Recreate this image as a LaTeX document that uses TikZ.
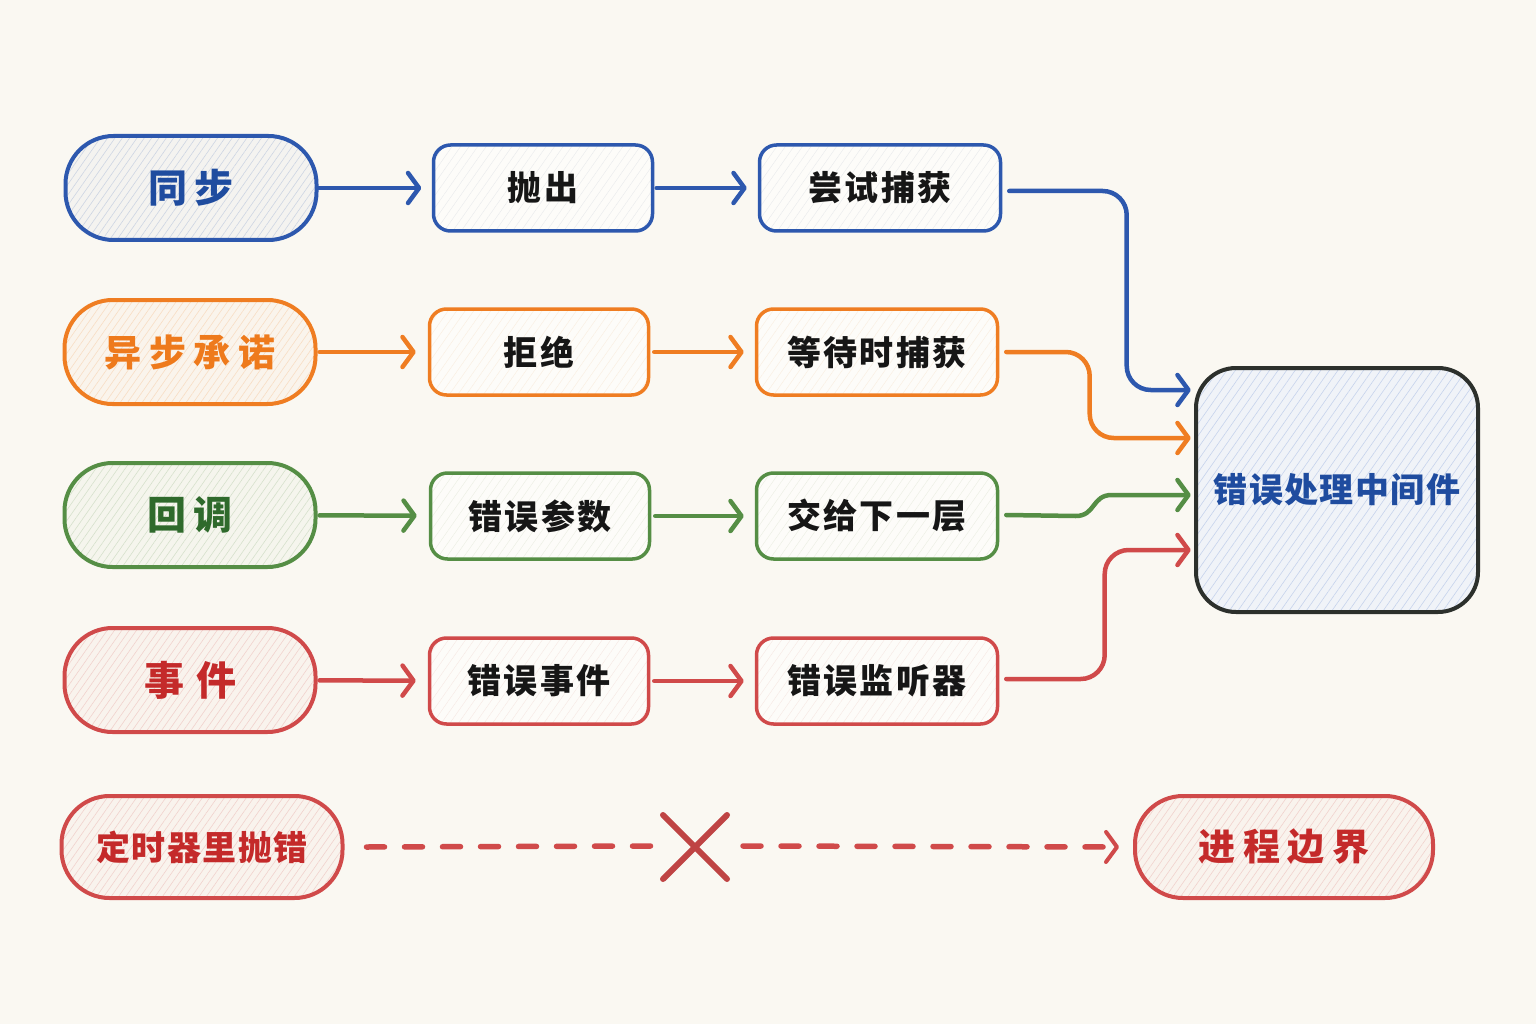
\documentclass[tikz,border=0pt]{standalone}
\usepackage{fontspec}
\usetikzlibrary{arrows.meta,patterns.meta}
\newfontfamily\fpill[LetterSpace=20]{Noto Sans CJK SC}
\newfontfamily\fpillw[LetterSpace=30]{Noto Sans CJK SC}
\newfontfamily\fmid[LetterSpace=7]{Noto Sans CJK SC}
\newfontfamily\fsml[LetterSpace=4]{Noto Sans CJK SC}
\definecolor{bg}{HTML}{FAF8F2}
\definecolor{cblue}{HTML}{2D58AE}
\definecolor{tblue}{HTML}{1F4C9F}
\definecolor{corange}{HTML}{EF7D22}
\definecolor{torange}{HTML}{EE7A1C}
\definecolor{cgreen}{HTML}{558E45}
\definecolor{tgreen}{HTML}{2F6A2C}
\definecolor{cred}{HTML}{D04A4A}
\definecolor{tred}{HTML}{C42A2A}
\definecolor{cdark}{HTML}{2C302C}
\definecolor{ink}{HTML}{161616}
\definecolor{mwfill}{HTML}{F0F3F8}
\definecolor{mwhatch}{HTML}{C6D3EC}
\tikzset{
  pill/.style={draw=#1, line width=4pt, rounded corners=48pt,
    minimum width=251pt, minimum height=104pt, inner sep=0pt,
    preaction={fill=#1!3!bg},
    pattern={Lines[angle=55,distance=6pt,line width=0.6pt]}, pattern color=#1!22!bg},
  midbox/.style={draw=#1, line width=3.5pt, rounded corners=17pt,
    minimum width=219pt, minimum height=86pt, inner sep=0pt,
    preaction={fill=white!55!bg},
    pattern={Lines[angle=55,distance=7pt,line width=0.4pt]}, pattern color=#1!9!bg,
    text=ink, font=\fmid\bfseries\fontsize{34}{40}\selectfont},
  catchbox/.style={midbox=#1, minimum width=241pt},
  flow/.style={draw=#1, line width=4.5pt, line cap=round,
    -{Straight Barb[length=11pt,width=30pt,round]}},
  merge/.style={flow=#1, rounded corners=24pt},
  dashline/.style={draw=cred, line width=5.5pt, line cap=round, dash pattern=on 18pt off 20pt},
  xcross/.style={draw=cred!92!black, line width=6pt, line cap=round}
}
\begin{document}
\begin{tikzpicture}[x=1pt,y=-1pt]
\fill[bg] (0,0) rectangle (1536,1024);
\useasboundingbox (0,0) rectangle (1536,1024);

% start pills
\node[pill=cblue, text=tblue, font=\fpill\bfseries\fontsize{39}{44}\selectfont] (s1) at (191,188) {同步};
\node[pill=corange, text=torange, font=\fpill\bfseries\fontsize{37}{42}\selectfont] (s2) at (190,352) {异步承诺};
\node[pill=cgreen, text=tgreen, font=\fpill\bfseries\fontsize{39}{44}\selectfont] (s3) at (190,515) {回调};
\node[pill=cred, text=tred, font=\fpillw\bfseries\fontsize{40}{46}\selectfont] (s4) at (190,680) {事件};

% middle boxes
\node[midbox=cblue] (a1) at (543,188) {抛出};
\node[midbox=corange] (a2) at (539,352) {拒绝};
\node[midbox=cgreen] (a3) at (540,516) {错误参数};
\node[midbox=cred] (a4) at (539,681) {错误事件};

\node[catchbox=cblue] (c1) at (880,188) {尝试捕获};
\node[catchbox=corange] (c2) at (877,352) {等待时捕获};
\node[catchbox=cgreen] (c3) at (877,516) {交给下一层};
\node[catchbox=cred] (c4) at (877,681) {错误监听器};

% middleware
\node[draw=cdark, line width=4pt, rounded corners=40pt,
      minimum width=282pt, minimum height=244pt, inner sep=0pt,
      preaction={fill=mwfill},
      pattern={Lines[angle=55,distance=7pt,line width=0.6pt]}, pattern color=mwhatch,
      text=tblue, font=\fsml\bfseries\fontsize{34}{40}\selectfont] (m) at (1337,490) {错误处理中间件};

% timer row
\node[pill=cred, minimum width=281pt, minimum height=102pt, text=tred,
      font=\fsml\bfseries\fontsize{34}{40}\selectfont] (t) at (202,847) {定时器里抛错};
\node[pill=cred, minimum width=298pt, minimum height=102pt, text=tred,
      font=\fpill\bfseries\fontsize{37}{42}\selectfont] (p) at (1284,847) {进程边界};
\coordinate (x) at (695,846);

% row arrows
\draw[flow=cblue, shorten <=2pt, shorten >=12pt] (s1) -- (a1);
\draw[flow=cblue, shorten <=4pt, shorten >=11pt] (a1) -- (c1);
\draw[flow=corange, shorten <=2pt, shorten >=12pt] (s2) -- (a2);
\draw[flow=corange, shorten <=4pt, shorten >=11pt] (a2) -- (c2);
\draw[flow=cgreen, shorten <=2pt, shorten >=12pt] (s3) -- (a3);
\draw[flow=cgreen, shorten <=4pt, shorten >=11pt] (a3) -- (c3);
\draw[flow=cred, shorten <=2pt, shorten >=12pt] (s4) -- (a4);
\draw[flow=cred, shorten <=4pt, shorten >=11pt] (a4) -- (c4);

% merging connectors
\draw[merge=cblue, shorten >=5pt] ([xshift=7pt,yshift=-3pt]c1.east)
   -| ([xshift=-69pt,yshift=100pt]m.west) -- ([yshift=100pt]m.west);
\draw[merge=corange, shorten >=5pt] ([xshift=7pt]c2.east)
   -| ([xshift=-106pt,yshift=52pt]m.west) -- ([yshift=52pt]m.west);
\draw[flow=cgreen, shorten >=5pt] ([xshift=7pt,yshift=1pt]c3.east)
   -- ([xshift=-120pt,yshift=-26pt]m.west)
   .. controls ([xshift=-100pt,yshift=-26pt]m.west) and ([xshift=-104pt,yshift=-5pt]m.west)
   .. ([xshift=-84pt,yshift=-5pt]m.west) -- ([yshift=-5pt]m.west);
\draw[merge=cred, shorten >=5pt] ([xshift=7pt,yshift=2pt]c4.east)
   -| ([xshift=-91pt,yshift=-60pt]m.west) -- ([yshift=-60pt]m.west);

% timer dashed path with cross
\draw[dashline] ([xshift=22pt]t.east) -- ([xshift=-38pt]x);
\draw[dashline, -{Straight Barb[length=11pt,width=30pt,round,line width=4pt]}]
   ([xshift=48pt]x) -- ([xshift=-14pt]p.west);
\draw[xcross] ([xshift=-32pt,yshift=31pt]x) -- ([xshift=32pt,yshift=-33pt]x);
\draw[xcross] ([xshift=32pt,yshift=31pt]x) -- ([xshift=-32pt,yshift=-33pt]x);
\end{tikzpicture}
\end{document}
